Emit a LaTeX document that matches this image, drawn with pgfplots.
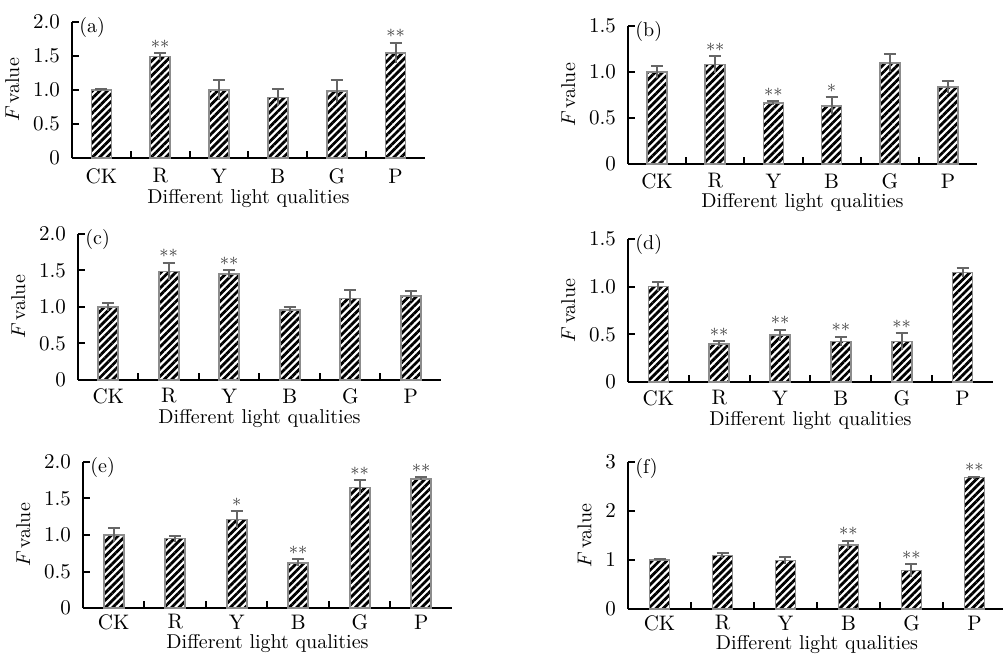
\documentclass[border=0pt]{standalone}
\usepackage{pgfplots}
\pgfplotsset{compat=1.18}
\usetikzlibrary{patterns.meta}
\pgfplotsset{
  panel/.style={
    scale only axis, anchor=south west, clip=false,
    axis lines*=left, axis line style={line width=1pt,-},
    xmin=-0.5, xmax=5.5, ymin=0,
    xtick={0,...,5}, xticklabels={CK,R,Y,B,G,P},
    minor xtick={0.5,1.5,2.5,3.5,4.5},
    tick align=inside, major tick length=3.5pt, minor tick length=3.5pt,
    tick style={line width=1pt, black},
    major x tick style={draw=none},
    ticklabel style={font=\fontsize{10.5}{12}\selectfont},
    yticklabel style={xshift=-2.5pt},
    xlabel={Different light qualities}, ylabel={$F$\,value},
    every node near coord/.append style={anchor=center, yshift=4.5pt, font=\small, text=black!75},
  },
  xl/.style={xlabel style={at={(axis description cs:0.5,0)}, anchor=center, inner sep=0pt, yshift=-#1}},
  xt/.style={xticklabel style={anchor=center, inner sep=0pt, yshift=-#1}},
  bars/.style={ybar, bar width=10pt, bar shift=0pt, draw=black!45, line width=0.8pt,
    pattern={Lines[angle=45,distance=2.6pt,line width=1.4pt]}, pattern color=black,
    error bars/y dir=plus, error bars/y explicit,
    error bars/error bar style={line width=1pt, black!60},
    error bars/error mark options={rotate=90, mark size=3pt, line width=1pt, black!60}},
  lowerr/.style={draw=none, mark=none,
    error bars/y dir=minus, error bars/y explicit,
    error bars/error bar style={line width=1pt, black!60}, error bars/error mark=none},
  stars/.style={draw=none, mark=none, nodes near coords, point meta=explicit symbolic},
}
\newcommand{\tag}[1]{\node[anchor=west, inner sep=0pt, xshift=3.5pt, yshift=-3pt] at (rel axis cs:0,1) {#1};}
\begin{document}
\begin{tikzpicture}
% (a)
\begin{axis}[panel, at={(36pt,248pt)}, width=176.5pt, height=68pt, ymax=2,
  ytick={0,0.5,1,1.5,2}, yticklabels={0,0.5,1.0,1.5,2.0}, xt=9pt, xl=20.5pt]
\addplot[bars] coordinates {(0,1.0) +- (0,0.01) (1,1.49) +- (0,0.05) (2,1.0) +- (0,0.14) (3,0.89) +- (0,0.12) (4,0.985) +- (0,0.16) (5,1.545) +- (0,0.15)};
\addplot[lowerr] coordinates {(0,1.0) +- (0,0.01) (1,1.49) +- (0,0.05) (2,1.0) +- (0,0.14) (3,0.89) +- (0,0.12) (4,0.985) +- (0,0.16) (5,1.545) +- (0,0.15)};
\addplot[stars] coordinates {(1,1.54) [$\ast\ast$] (5,1.695) [$\ast\ast$]};
\tag{(a)}
\end{axis}
% (b)
\begin{axis}[panel, at={(314pt,245pt)}, width=174.5pt, height=69pt, ymax=1.5,
  ytick={0,0.5,1,1.5}, yticklabels={0,0.5,1.0,1.5}, xt=8.5pt, xl=19.5pt]
\addplot[bars] coordinates {(0,1.0) +- (0,0.06) (1,1.08) +- (0,0.09) (2,0.66) +- (0,0.02) (3,0.633) +- (0,0.09) (4,1.1) +- (0,0.1) (5,0.84) +- (0,0.065)};
\addplot[lowerr] coordinates {(0,1.0) +- (0,0.06) (1,1.08) +- (0,0.09) (2,0.66) +- (0,0.02) (3,0.633) +- (0,0.09) (4,1.1) +- (0,0.1) (5,0.84) +- (0,0.065)};
\addplot[stars] coordinates {(1,1.17) [$\ast\ast$] (2,0.68) [$\ast\ast$] (3,0.723) [$\ast$]};
\tag{(b)}
\end{axis}
% (c)
\begin{axis}[panel, at={(39pt,137pt)}, width=181.5pt, height=73pt, ymax=2,
  ytick={0,0.5,1,1.5,2}, yticklabels={0,0.5,1.0,1.5,2.0}, xt=8pt, xl=19.5pt]
\addplot[bars] coordinates {(0,1.0) +- (0,0.06) (1,1.487) +- (0,0.12) (2,1.45) +- (0,0.05) (3,0.96) +- (0,0.045) (4,1.117) +- (0,0.11) (5,1.153) +- (0,0.07)};
\addplot[lowerr] coordinates {(0,1.0) +- (0,0.06) (1,1.487) +- (0,0.12) (2,1.45) +- (0,0.05) (3,0.96) +- (0,0.045) (4,1.117) +- (0,0.11) (5,1.153) +- (0,0.07)};
\addplot[stars] coordinates {(1,1.607) [$\ast\ast$] (2,1.50) [$\ast\ast$]};
\tag{(c)}
\end{axis}
% (d)
\begin{axis}[panel, at={(314pt,136pt)}, width=182.5pt, height=71.5pt, ymax=1.5,
  ytick={0,0.5,1,1.5}, yticklabels={0,0.5,1.0,1.5}, xt=8pt, xl=19.5pt]
\addplot[bars] coordinates {(0,1.0) +- (0,0.05) (1,0.40) +- (0,0.03) (2,0.49) +- (0,0.06) (3,0.424) +- (0,0.05) (4,0.424) +- (0,0.085) (5,1.15) +- (0,0.05)};
\addplot[lowerr] coordinates {(0,1.0) +- (0,0.05) (1,0.40) +- (0,0.03) (2,0.49) +- (0,0.06) (3,0.424) +- (0,0.05) (4,0.424) +- (0,0.085) (5,1.15) +- (0,0.05)};
\addplot[stars] coordinates {(1,0.43) [$\ast\ast$] (2,0.55) [$\ast\ast$] (3,0.474) [$\ast\ast$] (4,0.509) [$\ast\ast$]};
\tag{(d)}
\end{axis}
% (e)
\begin{axis}[panel, at={(41.5pt,23pt)}, width=184.5pt, height=73pt, ymax=2,
  ytick={0,0.5,1,1.5,2}, yticklabels={0,0.5,1.0,1.5,2.0}, xt=7pt, xl=18pt]
\addplot[bars] coordinates {(0,1.0) +- (0,0.10) (1,0.95) +- (0,0.04) (2,1.21) +- (0,0.12) (3,0.62) +- (0,0.045) (4,1.65) +- (0,0.105) (5,1.77) +- (0,0.02)};
\addplot[lowerr] coordinates {(0,1.0) +- (0,0.10) (1,0.95) +- (0,0.04) (2,1.21) +- (0,0.12) (3,0.62) +- (0,0.045) (4,1.65) +- (0,0.105) (5,1.77) +- (0,0.02)};
\addplot[stars] coordinates {(2,1.33) [$\ast$] (3,0.665) [$\ast\ast$] (4,1.755) [$\ast\ast$] (5,1.79) [$\ast\ast$]};
\tag{(e)}
\end{axis}
% (f)
\begin{axis}[panel, at={(314pt,22.5pt)}, width=189pt, height=73.5pt, ymax=3,
  ytick={0,1,2,3}, yticklabels={0,1,2,3}, xt=7pt, xl=18pt]
\addplot[bars] coordinates {(0,1.0) +- (0,0.02) (1,1.09) +- (0,0.05) (2,0.99) +- (0,0.07) (3,1.305) +- (0,0.09) (4,0.785) +- (0,0.13) (5,2.68) +- (0,0.02)};
\addplot[lowerr] coordinates {(0,1.0) +- (0,0.02) (1,1.09) +- (0,0.05) (2,0.99) +- (0,0.07) (3,1.305) +- (0,0.09) (4,0.785) +- (0,0.13) (5,2.68) +- (0,0.02)};
\addplot[stars] coordinates {(3,1.395) [$\ast\ast$] (4,0.915) [$\ast\ast$] (5,2.70) [$\ast\ast$]};
\tag{(f)}
\end{axis}
\pgfresetboundingbox
\path[use as bounding box] (0,0) rectangle (501.5pt,327pt);
\end{tikzpicture}
\end{document}
